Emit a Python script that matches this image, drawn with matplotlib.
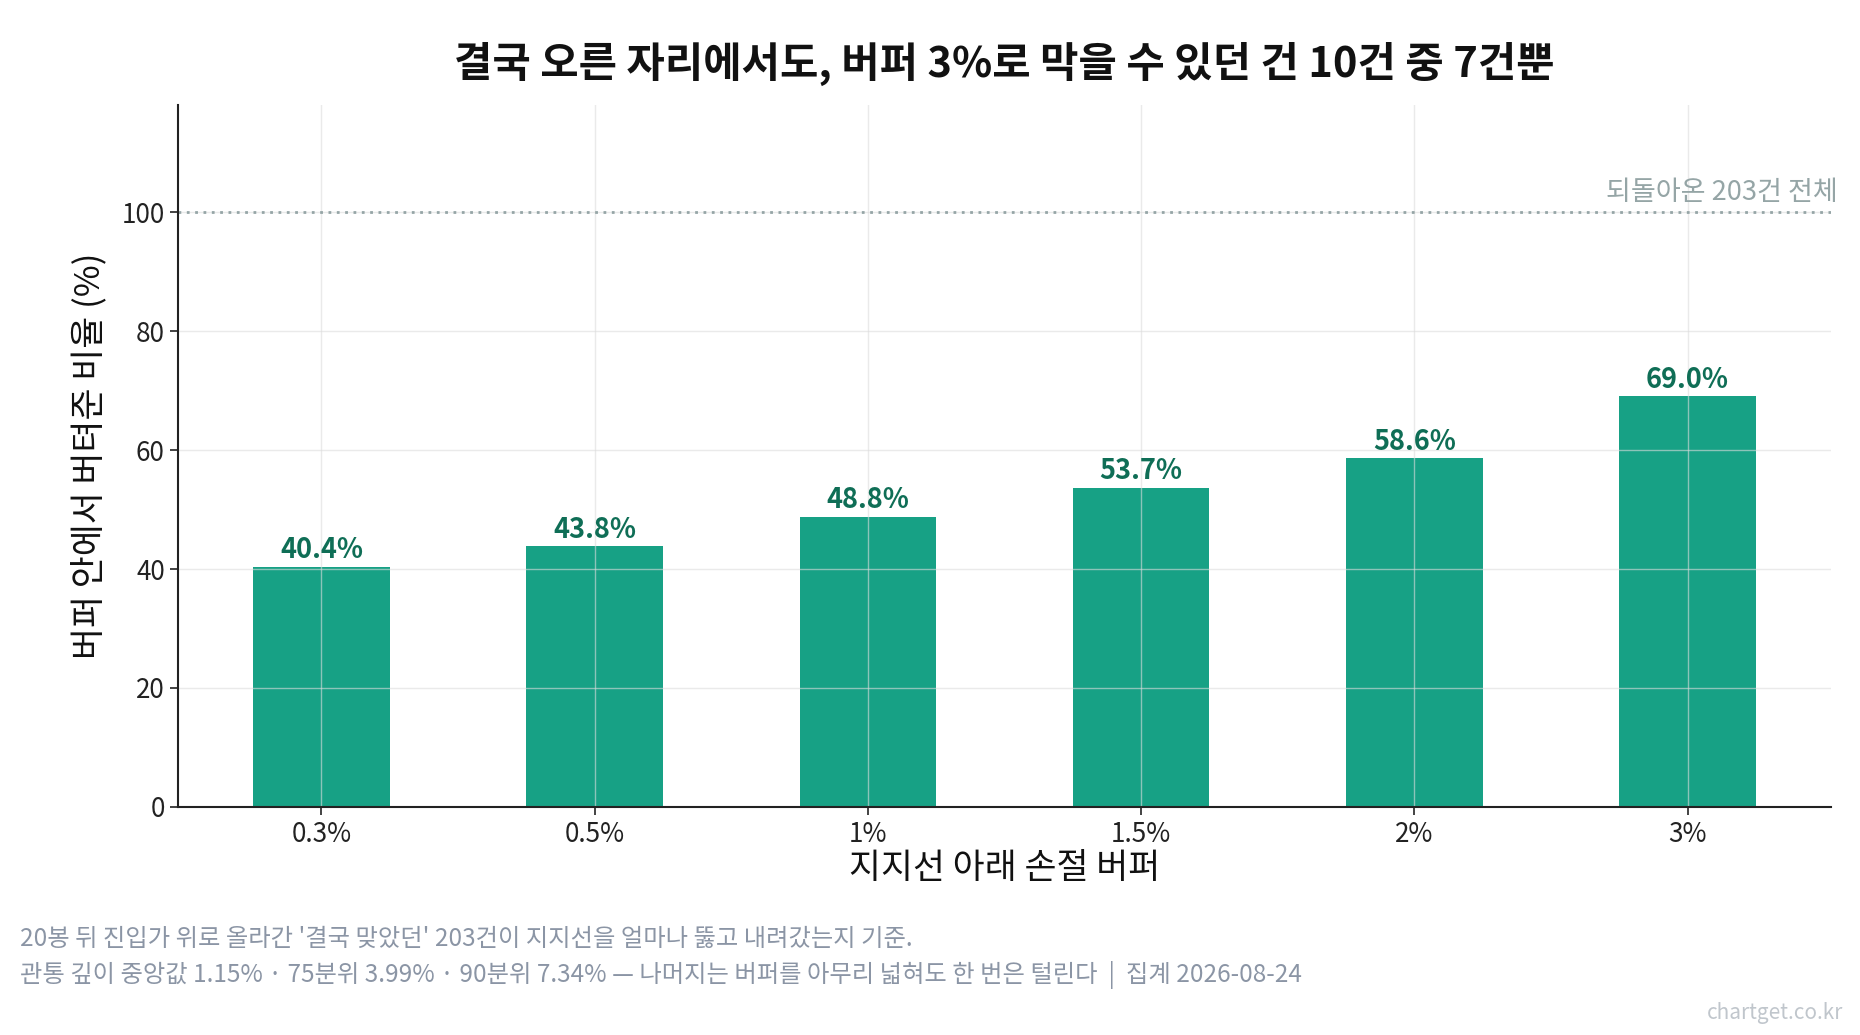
import matplotlib
matplotlib.use('Agg')
import matplotlib.pyplot as plt

# 버퍼 크기별로 되돌아온 203건 중 버퍼 안에서 버틴 비율
buffers = ['0.3%', '0.5%', '1%', '1.5%', '2%', '3%']
hold_rate = [40.4, 43.8, 48.8, 53.7, 58.6, 69.0]
y_ticks = [0, 20, 40, 60, 80, 100]
total_line = 100

title_text = '결국 오른 자리에서도, 버퍼 3%로 막을 수 있던 건 10건 중 7건뿐'
footer_1 = "20봉 뒤 진입가 위로 올라간 '결국 맞았던' 203건이 지지선을 얼마나 뚫고 내려갔는지 기준."
footer_2 = ('관통 깊이 중앙값 1.15% · 75분위 3.99% · 90분위 7.34% — '
            '나머지는 버퍼를 아무리 넓혀도 한 번은 털린다  |  집계 2026-08-24')

plt.rcParams['font.family'] = ['Noto Sans CJK KR', 'DejaVu Sans']

BAR_COLOR = '#17a185'
LABEL_COLOR = '#0f6e56'
REF_COLOR = '#95a5a6'
NOTE_COLOR = '#8b95a5'


def main():
    """Draw the bar chart and save it."""
    fig = plt.figure(figsize=(18.6, 10.35), dpi=100)
    ax = fig.add_axes([0.0957, 0.2203, 0.8887, 0.6783])

    x = range(len(buffers))
    bars = ax.bar(x, hold_rate, width=0.5, color=BAR_COLOR, zorder=1)

    # value labels above each bar
    for rect, val in zip(bars, hold_rate):
        ax.annotate(f'{val:.1f}%', (rect.get_x() + rect.get_width() / 2, val),
                    xytext=(0, 2), textcoords='offset points',
                    ha='center', va='bottom', fontsize=19.5, fontweight='bold',
                    color=LABEL_COLOR, zorder=4)

    # reference line for the full 203 cases
    ax.axhline(total_line, color=REF_COLOR, linestyle=(0, (1, 2)), linewidth=2, zorder=2)
    ax.text(1.004, total_line + 1, '되돌아온 203건 전체', transform=ax.get_yaxis_transform(),
            ha='right', va='bottom', fontsize=19.5, color=REF_COLOR)

    ax.set_ylim(0, 118)
    ax.set_yticks(y_ticks)
    ax.set_xticks(list(x))
    ax.set_xticklabels(buffers)
    ax.tick_params(axis='both', labelsize=18.8, colors='#222222', length=6, width=1.2)
    ax.tick_params(axis='x', pad=4)

    ax.grid(True, color='#dcdcdc', linewidth=1, alpha=0.6, zorder=1.5)

    for side in ['top', 'right']:
        ax.spines[side].set_visible(False)
    for side in ['left', 'bottom']:
        ax.spines[side].set_color('#222222')
        ax.spines[side].set_linewidth(1.5)

    ax.set_xlabel('지지선 아래 손절 버퍼', fontsize=25, color='#111111', labelpad=2)
    ax.set_ylabel('버퍼 안에서 버텨준 비율 (%)', fontsize=25, color='#111111', labelpad=10)
    ax.set_title(title_text, fontsize=30, fontweight='bold', color='#111111', pad=20)

    fig.text(0.011, 1 - 939 / 1035, footer_1, fontsize=17.5, color=NOTE_COLOR, va='center')
    fig.text(0.011, 1 - 975 / 1035, footer_2, fontsize=17.5, color=NOTE_COLOR, va='center')
    fig.text(0.991, 1 - 1013 / 1035, 'chartget.co.kr', fontsize=15, color='#c0c6cc',
             ha='right', va='center')

    fig.savefig('out.png', dpi=100)


if __name__ == '__main__':
    main()
